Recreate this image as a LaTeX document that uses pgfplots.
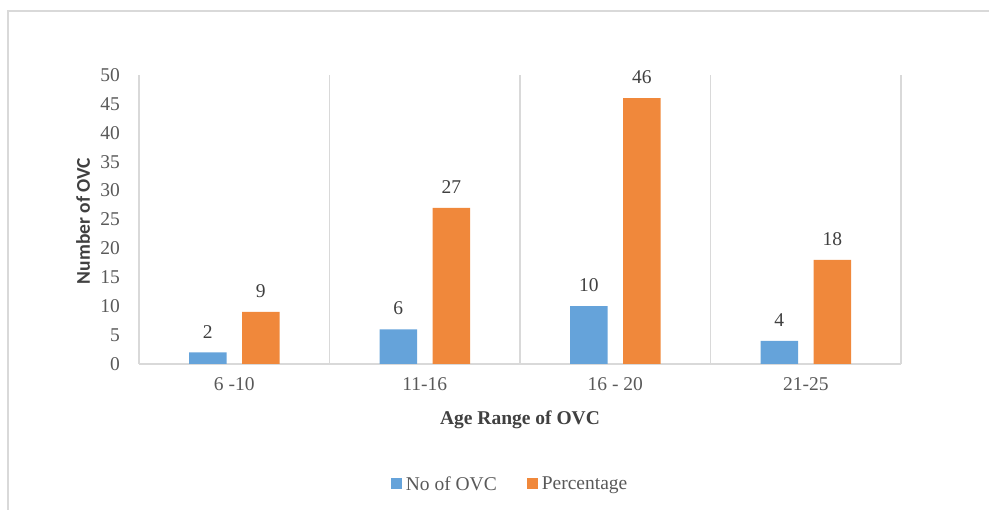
\documentclass[border=0pt]{standalone}
\usepackage{pgfplots}
\pgfplotsset{compat=1.18}
\usepackage{fontspec}
\setmainfont{Liberation Serif}
\newfontfamily\carlito{Carlito}
\definecolor{barblue}{HTML}{65A3DA}
\definecolor{barorange}{HTML}{F0883B}
\definecolor{gridgrey}{HTML}{D9D9D9}
\definecolor{ticktext}{HTML}{595959}
\definecolor{labeltext}{HTML}{404040}
\newcommand\chartfont{\fontsize{19.5bp}{23bp}\selectfont}
\begin{document}
\begin{tikzpicture}
\path[use as bounding box] (0,0) rectangle (989bp,510bp);
\draw[gridgrey, line width=1.5bp] (8bp,0) -- (8bp,499bp) -- (989bp,499bp);
\begin{axis}[
  at={(139bp,146bp)}, anchor=south west,
  scale only axis, width=762bp, height=289bp,
  ymin=0, ymax=50, xmin=-0.5, xmax=3.5,
  ytick={0,5,...,50},
  xtick={0,1,2,3},
  xticklabels={6 -10,11-16,16 - 20,21-25},
  minor xtick={0.5,1.5,2.5,3.5},
  xminorgrids=true,
  minor grid style={gridgrey, line width=1.2bp},
  major tick length=0pt, minor tick length=0pt,
  axis x line*=bottom, axis y line*=left,
  axis line style={gridgrey, line width=1.2bp, -},
  /pgf/number format/assume math mode=true,
  tick label style={font=\chartfont, text=ticktext},
  yticklabel style={anchor=east, inner sep=0pt, xshift=-19bp},
  xticklabel style={anchor=north, inner sep=0pt, yshift=-13bp},
  xlabel={\bfseries Age Range of OVC},
  xlabel style={at={(axis description cs:0.5,-0.194)}, anchor=center, font=\chartfont, text=labeltext},
  ylabel={\carlito\bfseries Number of OVC},
  ylabel style={at={(axis description cs:-0.0735,0.495)}, anchor=center, rotate=0, font=\chartfont, text=labeltext},
  ybar, bar width=37.5bp,
  nodes near coords,
  nodes near coords style={font=\chartfont, text=labeltext, anchor=south, inner sep=0pt, yshift=14bp},
  legend style={at={(axis description cs:0.487,-0.415)}, anchor=center, draw=none, fill=none,
    font=\chartfont, text=ticktext, legend columns=2,
    /tikz/every even column/.append style={column sep=28bp}},
  legend image code/.code={\fill[#1] (0bp,-5.5bp) rectangle (11bp,5.5bp); \path (13bp,0bp);},
]
\addplot[fill=barblue, draw=none, bar shift=-26.5bp] coordinates {(0,2) (1,6) (2,10) (3,4)};
\addplot[fill=barorange, draw=none, bar shift=26.5bp] coordinates {(0,9) (1,27) (2,46) (3,18)};
\legend{No of OVC, Percentage}
\end{axis}
\end{tikzpicture}
\end{document}
